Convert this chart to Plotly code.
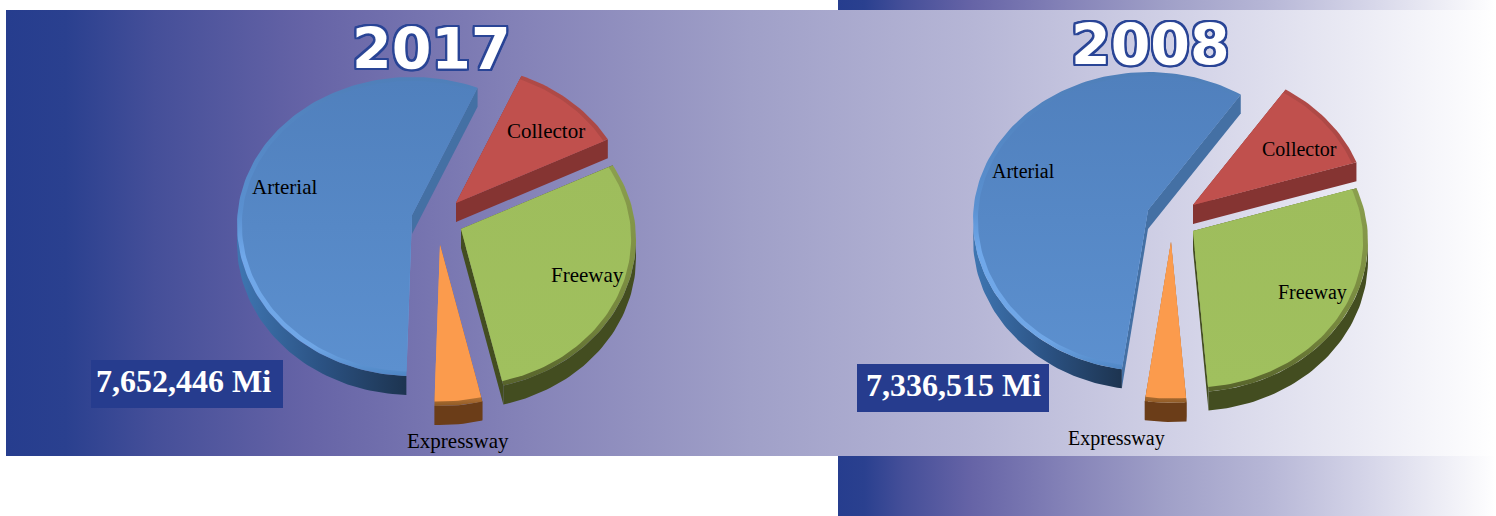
import math
import plotly.graph_objects as go

# ---- data ----
categories = ["Collector", "Freeway", "Expressway", "Arterial"]
shares_2017 = [10.6, 29.4, 4.4, 55.6]
shares_2008 = [10.3, 29.4, 3.8, 56.5]
total_2017 = "7,652,446 Mi"
total_2008 = "7,336,515 Mi"

# ---- layout / style ----
W, H = 1496, 516
RX, RY_BACK, RY_FRONT, APEX_DY, DEPTH = 175, 148, 151, 10, 19
BG_STOPS = [[0, "#263d8e"], [0.04, "#2a408f"], [0.1, "#454f99"], [0.2, "#6563a6"],
            [0.35, "#8583b8"], [0.5, "#a0a0c8"], [0.65, "#b6b6d6"], [0.8, "#d4d4e8"],
            [0.93, "#f0f0f7"], [1, "#ffffff"]]
STYLE = {
    "Arterial": dict(top=[[0, "#5080bd"], [1, "#5c90cf"]],
                     bevel=[[0, "#4f7fb9"], [0.45, "#5a90d0"], [0.6, "#70a8ea"], [0.9, "#6fa6e6"], [1, "#4f86c4"]],
                     cut="#4470a4",
                     rim=[[0, "#3f76b2"], [0.5, "#2b5283"], [1, "#1d3450"]]),
    "Collector": dict(top=[[0, "#c0504d"], [1, "#c0504d"]],
                      bevel=[[0, "#b04a47"], [1, "#a84643"]],
                      cut="#853432", rim=None),
    "Freeway": dict(top=[[0, "#9ebd5c"], [1, "#a0c05e"]],
                    bevel=[[0, "#8b9f4e"], [0.7, "#75863d"], [1, "#57632b"]],
                    cut="#434d20",
                    rim=[[0, "#434d20"], [1, "#434d20"]]),
    "Expressway": dict(top=[[0, "#fb9b4d"], [1, "#fb9b4d"]],
                       bevel=[[0, "#fb9b4d"], [0.86, "#fb9b4d"], [1, "#8d5a26"]],
                       cut="#6b3d18",
                       rim=[[0, "#6b3d18"], [1, "#6b3d18"]]),
}
PIES = [
    dict(shares=shares_2017, start=22, text_dx=3,
         apex={"Collector": (456, 203), "Freeway": (461, 229), "Expressway": (440, 245), "Arterial": (412, 215)},
         labels={"Arterial": (284, 187, 21), "Collector": (546, 131, 21), "Freeway": (587, 275, 21), "Expressway": (458, 441, 21)},
         title=("2017", 431, 49), box=(91, 360, 283, 408), total=total_2017),
    dict(shares=shares_2008, start=32, text_dx=7,
         apex={"Collector": (1193, 205), "Freeway": (1193, 231), "Expressway": (1171, 242), "Arterial": (1148, 210)},
         labels={"Arterial": (1023, 171, 20), "Collector": (1299, 149, 20), "Freeway": (1312, 292, 20), "Expressway": (1116, 438, 20)},
         title=("2008", 1150, 45), box=(857, 364, 1049, 412), total=total_2008),
]
FACE_ORDER = ["Arterial", "Collector", "Expressway", "Freeway"]


def rim_pt(apex, t):
    r = math.radians(t)
    c = math.cos(r)
    return apex[0] + RX * math.sin(r), apex[1] + APEX_DY - (RY_BACK if c > 0 else RY_FRONT) * c


def arc(apex, a, b, k=1.0):
    n = max(2, int(abs(b - a) / 1.5))
    pts = []
    for i in range(n + 1):
        px, py = rim_pt(apex, a + (b - a) * i / n)
        pts.append((apex[0] + k * (px - apex[0]), apex[1] + k * (py - apex[1])))
    return pts


def poly(fig, pts, color=None, grad=None, gtype="vertical"):
    xs = [p[0] for p in pts] + [pts[0][0]]
    ys = [p[1] for p in pts] + [pts[0][1]]
    kw = dict(x=xs, y=ys, mode="lines", fill="toself", line=dict(width=0),
              hoverinfo="skip", showlegend=False)
    if grad is not None:
        # the y axis runs downward, so a vertical gradient is listed bottom-first
        scale = grad if gtype == "horizontal" else [[1 - p, c] for p, c in reversed(grad)]
        kw["fillgradient"] = dict(type=gtype, colorscale=scale)
    else:
        kw["fillcolor"] = color
    fig.add_trace(go.Scatter(**kw))


fig = go.Figure()
# gradient panels
for x0, y0, x1, y1 in [(838, 0, W, 10), (6, 10, W, 456), (838, 456, W, H)]:
    poly(fig, [(x0, y0), (x1, y0), (x1, y1), (x0, y1)], grad=BG_STOPS, gtype="horizontal")

annotations, shapes = [], []
for pie in PIES:
    # angular extents come from the shares
    spans, t = {}, pie["start"]
    for cat, s in zip(categories, pie["shares"]):
        spans[cat] = (t, t + s * 3.6)
        t += s * 3.6

    for cat in FACE_ORDER:
        a, b = spans[cat]
        apex = pie["apex"][cat]
        st = STYLE[cat]
        # cut faces
        for edge in (a, b):
            e = rim_pt(apex, edge)
            poly(fig, [apex, e, (e[0], e[1] + DEPTH), (apex[0], apex[1] + DEPTH)], color=st["cut"])
        # outer rim, only the part facing the viewer
        lo, hi = max(a, 90), min(b, 270)
        if st["rim"] and hi > lo:
            top = arc(apex, lo, hi)
            poly(fig, top + [(x, y + DEPTH) for x, y in reversed(top)], grad=st["rim"], gtype="horizontal")
        # bevel and top surface
        poly(fig, [apex] + arc(apex, a, b), grad=st["bevel"])
        poly(fig, [apex] + arc(apex, a, b, 0.972), grad=st["top"])

    for cat, (x, y, size) in pie["labels"].items():
        annotations.append(dict(x=x, y=y, text=cat, showarrow=False, xref="x", yref="y",
                                font=dict(family="Liberation Serif", size=size, color="#000000")))
    bx0, by0, bx1, by1 = pie["box"]
    shapes.append(dict(type="rect", x0=bx0, y0=by0, x1=bx1, y1=by1, xref="x", yref="y",
                       fillcolor="#263c8e", line=dict(width=0), layer="above"))
    annotations.append(dict(x=bx0 + pie["text_dx"], y=(by0 + by1) / 2 - 3, text=pie["total"],
                            showarrow=False, xref="x", yref="y", xanchor="left",
                            font=dict(family="Liberation Serif", size=32, color="#ffffff", weight="bold")))
    label, tx, ty = pie["title"]
    o = "#2a4596"
    outline = ",".join(f"{dx}px {dy}px 0 {o}" for dx in (-2, -1, 0, 1, 2) for dy in (-2, -1, 0, 1, 2))
    annotations.append(dict(x=tx, y=ty, text=label, showarrow=False, xref="x", yref="y",
                            font=dict(family="DejaVu Sans", size=57, color="#ffffff", weight="bold", shadow=outline)))

fig.update_layout(
    width=W, height=H, margin=dict(l=0, r=0, t=0, b=0), showlegend=False,
    paper_bgcolor="#ffffff", plot_bgcolor="#ffffff",
    xaxis=dict(range=[0, W], visible=False, fixedrange=True),
    yaxis=dict(range=[H, 0], visible=False, fixedrange=True),
    annotations=annotations, shapes=shapes,
)
fig.write_html("out.html", config={"displayModeBar": False},
               post_script="document.body.style.margin='0';document.body.style.overflow='hidden';")
